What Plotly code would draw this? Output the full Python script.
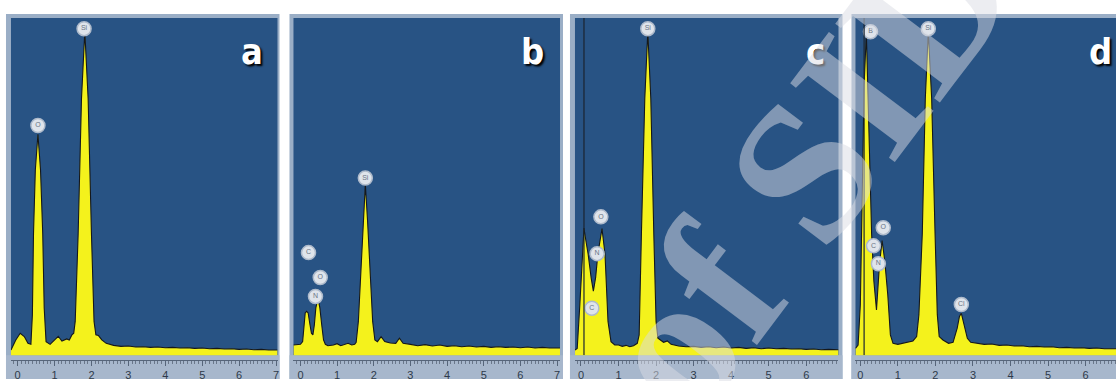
import plotly.graph_objects as go

W, H = 1118, 381

# ---------------- data (energy in keV, counts in % of full scale) ----------------
a_kev = [-0.18, -0.05, 0.07, 0.18, 0.28, 0.36, 0.40, 0.43, 0.48, 0.55, 0.62, 0.68, 0.72, 0.77,
         0.88, 0.98, 1.10, 1.20, 1.33, 1.40, 1.47, 1.52, 1.56, 1.64, 1.73, 1.82, 1.91, 2.00, 2.07,
         2.12, 2.19, 2.28, 2.40, 2.6, 2.8, 3.0, 3.2, 3.4, 3.6, 3.8, 4.0, 4.2, 4.4, 4.6, 4.8, 5.0,
         5.2, 5.4, 5.6, 5.8, 6.0, 6.2, 6.4, 6.6, 6.8, 7.04]
a_cnt = [1.5, 4.5, 6.5, 5.5, 3.5, 3.2, 12, 36, 55, 65.5, 55, 36, 14, 4,
         3.2, 4.2, 5.6, 4.2, 4.8, 4.5, 6.0, 6.5, 10, 36, 76, 96, 76, 36, 10,
         6.0, 5.8, 4.5, 3.5, 2.9, 2.6, 2.7, 2.4, 2.5, 2.3, 2.4, 2.2, 2.3, 2.1, 2.2, 2.0, 2.1,
         1.9, 2.0, 1.8, 1.9, 1.7, 1.8, 1.6, 1.7, 1.5, 1.5]

b_kev = [-0.19, 0.0, 0.06, 0.10, 0.13, 0.17, 0.21, 0.26, 0.30, 0.34, 0.38, 0.42, 0.46, 0.49,
         0.53, 0.58, 0.63, 0.68, 0.75, 0.9, 1.0, 1.1, 1.2, 1.3, 1.4, 1.48, 1.52, 1.58, 1.65,
         1.71, 1.77, 1.83, 1.90, 1.97, 2.03, 2.1, 2.2, 2.3, 2.45, 2.6, 2.7, 2.8, 3.0, 3.2, 3.4,
         3.6, 3.8, 4.0, 4.2, 4.4, 4.6, 4.8, 5.0, 5.2, 5.4, 5.6, 5.8, 6.0, 6.2, 6.4, 6.6, 6.8, 7.08]
b_cnt = [3.0, 3.2, 4.0, 9.0, 12.5, 13, 12.5, 9.0, 6.5, 6.0, 9.0, 14, 16, 16.2,
         14, 9.0, 4.5, 3.2, 2.8, 3.0, 3.4, 2.8, 3.2, 3.5, 3.0, 3.2, 3.8, 10, 25,
         40, 50.7, 40, 25, 10, 4.5, 4.0, 5.5, 4.0, 3.6, 3.5, 5.0, 3.5, 3.2, 2.8, 3.1,
         2.7, 3.0, 2.6, 2.8, 2.5, 2.7, 2.4, 2.6, 2.3, 2.5, 2.3, 2.4, 2.2, 2.4, 2.1, 2.3, 2.1, 2.1]

c_kev = [-0.16, -0.10, -0.03, 0.03, 0.08, 0.13, 0.19, 0.27, 0.33, 0.39, 0.45, 0.56, 0.64, 0.72,
         0.80, 0.90, 1.0, 1.1, 1.2, 1.3, 1.4, 1.50, 1.55, 1.61, 1.70, 1.78, 1.86, 1.94, 2.00,
         2.05, 2.12, 2.2, 2.3, 2.4, 2.6, 2.8, 3.0, 3.2, 3.4, 3.6, 3.8, 4.0, 4.2, 4.4, 4.6, 4.8,
         5.0, 5.2, 5.4, 5.6, 5.8, 6.0, 6.2, 6.4, 6.6, 6.86]
c_cnt = [1.5, 2.0, 15, 30, 37.7, 34, 30, 23, 19, 23, 30, 37.5, 30, 10,
         4.0, 3.0, 3.0, 2.6, 2.9, 2.5, 2.8, 3.5, 6.0, 36, 76, 96, 76, 36, 10,
         5.0, 4.5, 3.8, 4.2, 3.2, 2.7, 2.5, 2.6, 2.3, 2.5, 2.2, 2.4, 2.1, 2.3, 2.0, 2.2, 1.9,
         2.1, 1.9, 2.0, 1.8, 1.9, 1.7, 1.8, 1.6, 1.7, 1.6]

d_kev = [-0.13, -0.06, 0.0, 0.05, 0.10, 0.16, 0.23, 0.30, 0.36, 0.43, 0.51, 0.58, 0.65, 0.73,
         0.80, 0.87, 1.0, 1.2, 1.4, 1.50, 1.56, 1.65, 1.73, 1.81, 1.90, 1.99, 2.05, 2.10, 2.2,
         2.35, 2.47, 2.58, 2.64, 2.69, 2.76, 2.85, 2.94, 3.1, 3.3, 3.5, 3.7, 3.9, 4.1, 4.3, 4.5,
         4.7, 4.9, 5.1, 5.3, 5.5, 5.7, 5.9, 6.1, 6.3, 6.5, 6.81]
d_cnt = [2.0, 3.0, 15, 50, 80, 95.5, 66, 36, 22, 13.4, 27, 34, 28, 18,
         6.0, 3.5, 3.2, 3.8, 4.2, 5.5, 12, 36, 76, 96, 76, 36, 12, 5.5, 4.5,
         3.5, 3.8, 8.0, 11.5, 12.4, 9.0, 5.0, 3.8, 3.5, 3.2, 3.3, 2.9, 3.0, 2.7, 2.8, 2.5,
         2.6, 2.4, 2.5, 2.2, 2.3, 2.1, 2.2, 2.0, 2.1, 1.9, 1.9]

# element label circles
a_lab_kev = [0.55, 1.80]
a_lab_cnt = [68.1, 96.8]
a_lab_txt = ["O", "Si"]

b_lab_kev = [0.22, 0.54, 0.41, 1.77]
b_lab_cnt = [30.4, 23.0, 17.4, 52.5]
b_lab_txt = ["C", "O", "N", "Si"]

c_lab_kev = [1.78, 0.53, 0.43, 0.29]
c_lab_cnt = [96.8, 41.0, 30.1, 13.9]
c_lab_txt = ["Si", "O", "N", "C"]

d_lab_kev = [0.27, 1.81, 0.61, 0.35, 0.48, 2.69]
d_lab_cnt = [95.9, 96.8, 37.8, 32.4, 27.1, 15.0]
d_lab_txt = ["B", "Si", "O", "C", "N", "Cl"]

panel_letters = ["a", "b", "c", "d"]
x_ranges = [[-0.18, 7.04], [-0.19, 7.08], [-0.16, 6.86], [-0.13, 6.81]]
zero_markers = [None, None, 0.08, 0.10]
tick_values = [0, 1, 2, 3, 4, 5, 6, 7]

spectra = [(a_kev, a_cnt), (b_kev, b_cnt), (c_kev, c_cnt), (d_kev, d_cnt)]
labels = [(a_lab_kev, a_lab_cnt, a_lab_txt), (b_lab_kev, b_lab_cnt, b_lab_txt),
          (c_lab_kev, c_lab_cnt, c_lab_txt), (d_lab_kev, d_lab_cnt, d_lab_txt)]

# ---------------- layout geometry (pixels) ----------------
frame_px = [(6, 280), (290, 564), (571, 844), (853, 1118)]
blue_px = [(11, 278), (294, 561), (576, 840), (857, 1118)]
FRAME_TOP, BLUE_TOP, BASE, AXIS = 14, 18, 357, 362

BLUE = "#285384"
FRAME = "#9aaec6"
STRIP = "#a7b7cc"
YELLOW = "#f4f21c"

def px(x):
    return x / W

def py(y):
    return (H - y) / H

fig = go.Figure()
layout = dict(
    width=W, height=H,
    margin=dict(l=0, r=0, t=0, b=0),
    paper_bgcolor="white", plot_bgcolor="rgba(0,0,0,0)",
    showlegend=False,
    shapes=[], annotations=[],
)

y_top_val = 100.0
y_bottom_val = -(AXIS - BASE) / ((BASE - BLUE_TOP) / y_top_val)

for i in range(4):
    k = "" if i == 0 else str(i + 1)
    xa, ya = "x" + k, "y" + k
    fx0, fx1 = frame_px[i]
    bx0, bx1 = blue_px[i]
    layout["shapes"].append(dict(type="rect", xref="paper", yref="paper", layer="below",
                                 x0=px(fx0), x1=px(fx1), y0=py(H), y1=py(FRAME_TOP),
                                 fillcolor=FRAME, line=dict(width=0)))
    layout["shapes"].append(dict(type="rect", xref="paper", yref="paper", layer="below",
                                 x0=px(bx0), x1=px(bx1), y0=py(BASE), y1=py(BLUE_TOP),
                                 fillcolor=BLUE, line=dict(width=0)))
    layout["shapes"].append(dict(type="rect", xref="paper", yref="paper", layer="below",
                                 x0=px(fx0), x1=px(fx1), y0=py(H), y1=py(BASE),
                                 fillcolor=STRIP, line=dict(width=0)))
    if zero_markers[i] is not None:
        layout["shapes"].append(dict(type="line", xref=xa, yref=ya + " domain", layer="above",
                                     x0=zero_markers[i], x1=zero_markers[i], y0=0.015, y1=1,
                                     line=dict(color="#1b2430", width=1.2)))

    kev, cnt = spectra[i]
    fig.add_trace(go.Scatter(x=kev, y=cnt, xaxis=xa, yaxis=ya, mode="lines",
                             fill="tozeroy", fillcolor=YELLOW,
                             line=dict(color="#15181c", width=1.1), hoverinfo="skip"))
    lk, lc, lt = labels[i]
    fig.add_trace(go.Scatter(x=lk, y=lc, xaxis=xa, yaxis=ya, mode="markers+text",
                             text=lt, textposition="middle center",
                             textfont=dict(size=7, color="#6a7486", family="Liberation Sans"),
                             marker=dict(size=14, color="#dfe4eb",
                                         line=dict(color="#aebacb", width=1.5)),
                             cliponaxis=False, hoverinfo="skip"))

    layout["xaxis" + k] = dict(
        domain=[px(bx0), px(bx1)], anchor=ya, range=x_ranges[i],
        showgrid=False, zeroline=False, showline=True, linecolor="#56657a", linewidth=1,
        ticks="outside", ticklen=5, tickcolor="#56657a", tickwidth=1,
        tickvals=tick_values, ticktext=[str(t) for t in tick_values],
        minor=dict(dtick=0.1, tick0=0, ticks="outside", ticklen=2.5, tickcolor="#6a778a"),
        tickfont=dict(family="Liberation Sans", size=11, color="#2e3a4a"),
        fixedrange=True,
    )
    layout["yaxis" + k] = dict(
        domain=[py(AXIS), py(BLUE_TOP)], anchor=xa, range=[y_bottom_val, y_top_val],
        visible=False, showgrid=False, zeroline=False, fixedrange=True,
    )
    letter_x = [252, 533, 817, 1102][i]
    layout["annotations"].append(dict(
        xref="paper", yref="paper", x=px(letter_x), y=py(52), xanchor="center", yanchor="middle",
        text="<b>%s</b>" % panel_letters[i], showarrow=False,
        font=dict(family="Liberation Sans Narrow, DejaVu Sans Condensed, sans-serif",
                  size=36, color="white", shadow="2px 2px 2px #000"),
    ))

# watermark
layout["annotations"].append(dict(
    xref="paper", yref="paper", x=px(806), y=py(170), xanchor="center", yanchor="middle",
    text="<b>of SID</b>", showarrow=False, textangle=-53,
    font=dict(family="Liberation Serif", size=200, color="rgba(218,220,228,0.5)"),
))

fig.update_layout(**layout)
fig.write_html("out.html", config={"displayModeBar": False, "staticPlot": True},
               post_script="document.body.style.margin='0';document.body.style.overflow='hidden';")
